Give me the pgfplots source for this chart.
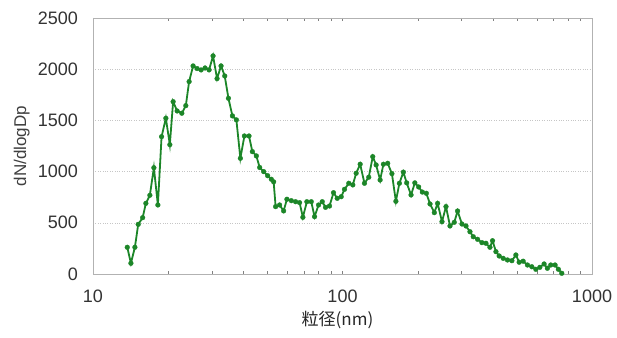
\documentclass[border=0pt]{standalone}
\usepackage{fontspec}
\setmainfont{Liberation Sans}
\newfontfamily\cjk{Noto Sans CJK JP}
\usepackage{pgfplots}
\usepackage{pgfplotstable}
\pgfplotsset{compat=1.18}

\definecolor{sizegreen}{RGB}{28,134,40}

% particle size distribution: diameter (nm), dN/dlogDp
\pgfplotstableread{
d N
13.72 261
14.19 105
14.72 261
15.18 485
15.81 550
16.29 690
16.90 769
17.54 1038
18.20 674
18.83 1341
19.59 1521
20.32 1263
20.95 1683
21.74 1592
22.70 1570
23.55 1644
24.28 1879
25.19 2032
26.14 2006
27.12 1993
28.13 2012
29.19 1993
30.28 2130
31.42 1908
32.60 2032
33.73 1934
34.90 1716
36.21 1544
37.56 1505
38.97 1130
40.44 1348
42.19 1348
43.53 1195
45.16 1153
46.56 1040
48.31 1000
50.12 960
51.86 925
52.97 900
53.95 658
55.98 674
58.08 616
59.87 730
62.35 716
64.86 706
67.30 697
69.38 554
71.98 706
74.96 706
77.27 560
80.17 674
82.95 706
85.51 651
88.72 664
92.04 794
95.24 739
98.81 755
101.86 827
105.97 886
109.96 870
113.45 984
117.70 1072
122.46 886
127.40 945
132.19 1146
136.39 1065
141.51 918
145.88 1072
151.77 1081
157.76 980
163.68 710
169.04 886
175.39 995
180.80 890
188.28 772
194.98 890
201.91 850
208.93 800
216.77 788
224.28 684
233.35 599
240.55 690
250.47 511
259.88 658
269.66 469
280.54 505
289.20 615
301.19 488
312.52 469
324.26 413
334.27 364
347.78 339
362.16 306
375.76 300
389.94 261
399.40 325
412.10 218
424.60 176
440.60 153
458.40 137
477.40 130
495.30 186
510.50 115
529.70 125
551.10 88
573.90 71
595.50 46
617.90 65
642.70 98
662.50 56
683.60 88
711.20 88
733.20 46
756.60 7
}\sizedist

\begin{document}
\begin{tikzpicture}
\path[use as bounding box] (-93pt,-63pt) rectangle (524pt,274pt);
\begin{axis}[
  at={(0,0)}, anchor=south west,
  scale only axis,
  width=499pt, height=256pt,
  xmode=log,
  xmin=10, xmax=1000,
  ymin=0, ymax=2500,
  xtick={10,100,1000},
  xticklabels={10,100,1000},
  ytick={0,500,1000,1500,2000,2500},
  yticklabel style={/pgf/number format/1000 sep={}},
  /pgf/number format/assume math mode=true,
  major tick length=0pt,
  minor tick num=0,
  axis line style={draw=gray!60, line width=0.6pt},
  ymajorgrids,
  grid style={draw=gray!45, dotted, line width=0.6pt},
  ticklabel style={font=\fontsize{18}{21}\selectfont, text=black!80},
  yticklabel style={inner sep=0pt, anchor=east, xshift=-15pt},
  xticklabel style={inner sep=0pt, anchor=north, yshift=-16pt},
  ylabel={dN/dlogDp},
  ylabel style={at={(axis description cs:-0.143,0.5)}, anchor=center,
    font=\fontsize{17}{20}\selectfont, text=black!75},
  xlabel={\cjk 粒径(nm)},
  xlabel style={at={(axis description cs:0.49,-0.18)}, anchor=center,
    font=\fontsize{17}{20}\selectfont, text=black!85},
  clip=false,
]
\addplot[sizegreen, line width=1.8pt, mark=*, mark size=2.4pt,
  mark options={fill=sizegreen, draw=sizegreen, line width=0.3pt}]
  table[x=d, y=N] {\sizedist};
\end{axis}
\end{tikzpicture}
\end{document}
